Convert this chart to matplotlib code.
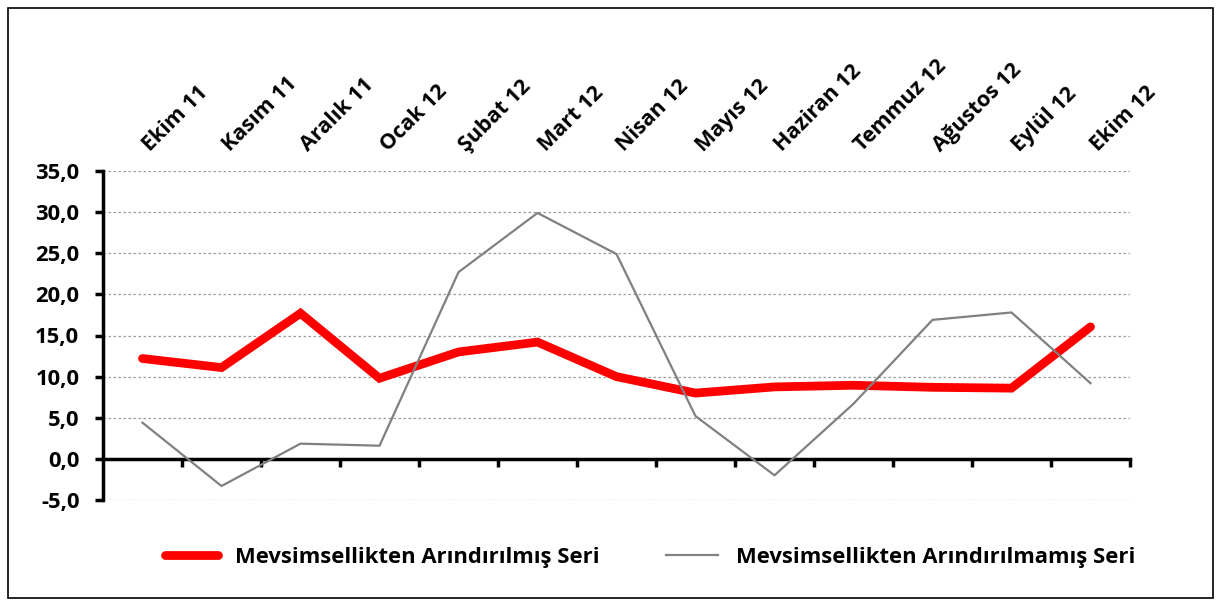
import matplotlib
matplotlib.use("Agg")
import matplotlib.pyplot as plt
from matplotlib.patches import Rectangle
from matplotlib.ticker import FuncFormatter, FixedLocator
from matplotlib.transforms import blended_transform_factory, offset_copy

categories = ["Ekim 11", "Kasım 11", "Aralık 11", "Ocak 12", "Şubat 12", "Mart 12",
              "Nisan 12", "Mayıs 12", "Haziran 12", "Temmuz 12", "Ağustos 12",
              "Eylül 12", "Ekim 12"]
seasonally_adjusted = [12.2, 11.1, 17.7, 9.8, 13.0, 14.2, 10.0, 8.0, 8.75, 8.95, 8.7, 8.6, 16.05]
not_adjusted = [4.4, -3.3, 1.85, 1.6, 22.7, 29.9, 24.9, 5.2, -2.0, 6.7, 16.9, 17.8, 9.2]
label_adj = "Mevsimsellikten Arındırılmış Seri"
label_notadj = "Mevsimsellikten Arındırılmamış Seri"
yticks = [-5, 0, 5, 10, 15, 20, 25, 30, 35]

plt.rcParams['font.family'] = ['Open Sans', 'DejaVu Sans']

fig = plt.figure(figsize=(12.22, 6.04), dpi=100)
W, H = 1222, 604
ax = fig.add_axes([103 / W, 1 - 500 / H, (1130 - 103) / W, (500 - 171) / H])

x = list(range(len(categories)))
ax.plot(x, seasonally_adjusted, color="#FF0000", lw=6.3, solid_capstyle="round",
        solid_joinstyle="miter", zorder=3, label=label_adj)
ax.plot(x, not_adjusted, color="#808080", lw=1.6, zorder=4, label=label_notadj)

ax.set_xlim(-0.5, len(categories) - 0.5)
ax.set_ylim(-5, 35)

for s in ["top", "right"]:
    ax.spines[s].set_visible(False)
ax.spines["left"].set_linewidth(2.5)
ax.spines["bottom"].set_position(("data", 0))
ax.spines["bottom"].set_linewidth(2.5)

ax.yaxis.set_major_locator(FixedLocator(yticks))
ax.yaxis.set_major_formatter(FuncFormatter(lambda v, p: f"{v:.1f}".replace(".", ",")))
ax.tick_params(axis="y", direction="out", length=6, width=2.5, pad=11, labelsize=15.8)
for lab in ax.get_yticklabels():
    lab.set_fontweight("bold")

ax.xaxis.set_major_locator(FixedLocator([i + 0.5 for i in range(len(categories))]))
ax.tick_params(axis="x", direction="out", length=6, width=2.5, labelbottom=False)

for v in yticks:
    if v != 0:
        ax.axhline(v, color="#9a9a9a", lw=0.9, ls=(0, (2, 2)), zorder=1)

trans = blended_transform_factory(ax.transData, ax.transAxes)
for i, c in enumerate(categories):
    t = offset_copy(trans, fig=fig, x=8, y=19, units="dots")
    ax.text(i, 1.0, c, transform=t, rotation=45, rotation_mode="anchor",
            ha="left", va="baseline", fontsize=15.5, fontweight="bold")

leg = fig.legend(loc="center", bbox_to_anchor=(650 / W, 1 - 557 / H), ncol=2,
                 frameon=False, handlelength=2.4, columnspacing=3.0, handletextpad=0.8,
                 prop={"size": 15.8, "weight": "bold"})

fig.patches.append(Rectangle((8 / W, 1 - 598 / H), (1213 - 8) / W, (598 - 8) / H,
                             transform=fig.transFigure, fill=False, ec="black", lw=1.2))

fig.savefig("out.png", dpi=100)
